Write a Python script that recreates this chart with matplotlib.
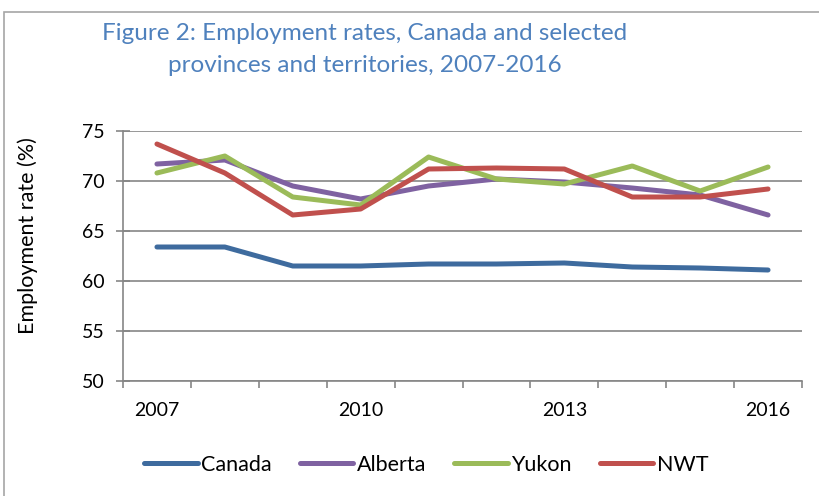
import numpy as np
import matplotlib
matplotlib.use("Agg")
from matplotlib import pyplot as plt
from matplotlib.patches import Rectangle

years = [2007, 2008, 2009, 2010, 2011, 2012, 2013, 2014, 2015, 2016]
canada = [63.4, 63.4, 61.5, 61.5, 61.7, 61.7, 61.8, 61.4, 61.3, 61.1]
alberta = [71.7, 72.1, 69.5, 68.2, 69.5, 70.2, 69.9, 69.3, 68.6, 66.6]
yukon = [70.8, 72.5, 68.4, 67.6, 72.4, 70.2, 69.7, 71.5, 69.0, 71.4]
nwt = [73.7, 70.8, 66.6, 67.2, 71.2, 71.3, 71.2, 68.4, 68.4, 69.2]

names = ['Canada', 'Alberta', 'Yukon', 'NWT']
colors = ['#3E6B9E', '#7F62A1', '#9BBB59', '#C0504D']
series = [canada, alberta, yukon, nwt]

plt.rcParams['font.family'] = ['Lato', 'DejaVu Sans']

fig = plt.figure(figsize=(8.19, 4.96), dpi=100)
ax = fig.add_axes([123 / 819, 1 - 381 / 496, (802 - 123) / 819, 250 / 496])

x = np.arange(len(years))
for s, n, c in zip(series, names, colors):
    ax.plot(x, s, color=c, lw=3.6, label=n, solid_capstyle='round', solid_joinstyle='round')

ax.set_xlim(-0.5, len(years) - 0.5)
ax.set_ylim(50, 75)
ax.set_yticks(range(50, 76, 5))
ax.yaxis.grid(True, color='#868686', lw=1.2)
ax.set_axisbelow(True)

# category axis: ticks between categories, labels every third year
ax.set_xticks(np.arange(-0.5, len(years), 1.0))
ax.set_xticklabels([])
ax.set_xticks(x[::3], minor=True)
ax.set_xticklabels([str(y) for y in years[::3]], minor=True)
ax.tick_params(axis='x', which='major', direction='out', length=5, color='#868686', width=1.2)
ax.tick_params(axis='x', which='minor', length=0, pad=15, labelsize=14)
ax.tick_params(axis='y', direction='inout', length=10, color='#868686', width=1.2,
               labelsize=14, pad=8)

for sp in ['top', 'right']:
    ax.spines[sp].set_visible(False)
ax.spines['left'].set_color('#868686')
ax.spines['bottom'].set_color('#868686')
ax.spines['left'].set_linewidth(1.2)
ax.spines['bottom'].set_linewidth(1.2)

fig.text(28 / 819, 1 - 236 / 496, 'Employment rate (%)', rotation=90,
         ha='center', va='center', fontsize=15.5)

fig.text(365 / 819, 1 - 33 / 496, 'Figure 2: Employment rates, Canada and selected',
         ha='center', va='center', color='#4F81BD', fontsize=17.5)
fig.text(365 / 819, 1 - 66 / 496, 'provinces and territories, 2007-2016',
         ha='center', va='center', color='#4F81BD', fontsize=17.5)

ax.legend(loc='center', bbox_to_anchor=(426 / 819, 1 - 465 / 496), bbox_transform=fig.transFigure,
          ncol=4, frameon=False, fontsize=15.5, handlelength=2.5, handletextpad=0.15,
          columnspacing=1.3)

fig.patches.append(Rectangle((4 / 819, -0.05), 1.0, 1 - 12 / 496 + 0.05,
                             transform=fig.transFigure, fill=False,
                             edgecolor='#A6A6A6', lw=1.2))

fig.savefig('out.png', dpi=100)
